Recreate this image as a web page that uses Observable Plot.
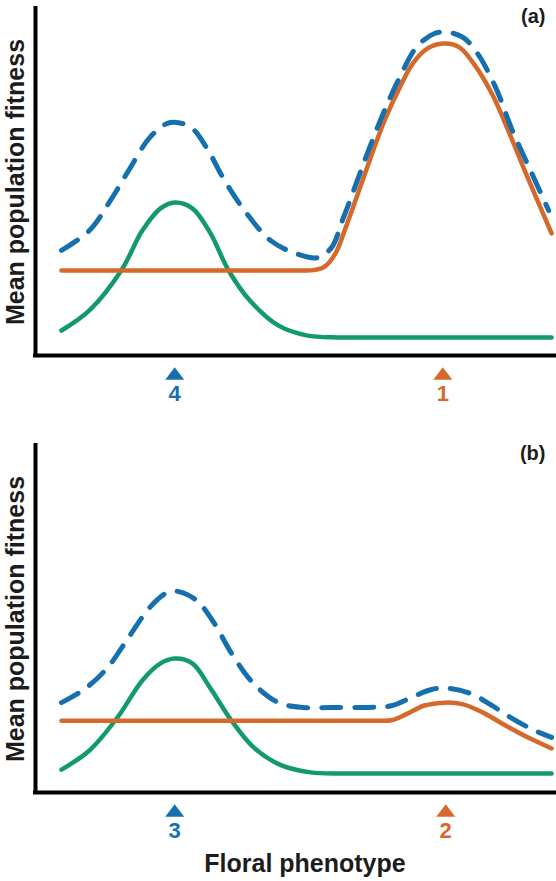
<!DOCTYPE html>
<html>
<head>
<meta charset="utf-8">
<script src="https://cdn.jsdelivr.net/npm/d3@7"></script>
<script src="https://cdn.jsdelivr.net/npm/@observablehq/plot@0.6"></script>
<style>
  body { margin: 0; background: #fff; font-family: "Liberation Sans", Arial, sans-serif; }
  #chart svg { display: block; }
</style>
</head>
<body>
<div id="chart"></div>
<script>
// Fitness landscapes: [phenotype, mean fitness] pairs for each component.
// Panel (a)
const aPollA = [[0,7.2],[5.7,13.0],[12.2,24.5],[16.5,36.0],[20.2,42.4],[23.1,44.1],[26.7,42.4],[30.4,35.2],[34.1,24.5],[38.4,15.9],[44.3,8.6],[50.0,5.8],[56.5,5.2],[63,5.2],[70,5.2],[85,5.2],[100,5.2]];
const aPollB = [[0,24.5],[15,24.5],[30,24.5],[40,24.5],[45,24.5],[48.5,24.5],[51.4,24.6],[53.7,25.6],[55.9,29.4],[58.0,36.9],[60.2,45.5],[63.1,57.1],[65.9,67.7],[69.0,77.2],[71.8,84.4],[74.7,88.5],[78.2,89.9],[81.2,88.8],[84.1,84.1],[87.8,75.5],[91.4,64.0],[95.1,51.3],[100,35.2]];
const aTotal = [[0,30.3],[5.7,36.0],[10.0,44.7],[13.7,53.3],[18.0,62.8],[21.6,66.9],[23.9,67.1],[26.7,65.4],[29.6,59.9],[33.3,50.4],[37.8,40.9],[42.7,33.1],[47.8,29.4],[52.2,28.2],[55.1,31.1],[57.3,38.9],[59.4,46.7],[62.4,58.2],[65.9,70.6],[69.0,80.1],[72.4,88.8],[76.1,92.8],[79.0,93.1],[82.0,91.6],[84.9,87.0],[88.6,77.2],[92.0,64.8],[95.7,53.3],[99.4,41.8]];
const aPeaks = [{x: 23.1, label: "4", series: "total"}, {x: 77.8, label: "1", series: "pollB"}];

// Panel (b)
const bPollA = [[0,6.6],[5.7,12.1],[11.4,21.6],[16.5,32.3],[20.2,37.2],[23.1,38.6],[26.7,37.2],[30.4,30.0],[34.7,20.7],[39.2,13.0],[44.9,7.8],[50.8,5.8],[57.3,5.5],[63,5.5],[70,5.5],[85,5.5],[100,5.5]];
const bPollB = [[0,20.7],[15,20.7],[30,20.7],[45,20.7],[55,20.7],[61,20.7],[64.5,20.7],[67.3,20.8],[70.4,22.6],[73.9,25.0],[78.4,25.9],[82.0,25.4],[86.3,22.8],[90.6,19.3],[95.1,15.9],[100,12.7]];
const bTotal = [[0,25.9],[4.9,30.0],[9.4,36.0],[13.7,44.7],[18.0,53.3],[21.6,57.6],[23.9,57.9],[27.6,55.3],[31.2,48.7],[34.7,40.1],[39.2,31.4],[44.3,25.9],[49.2,24.5],[55,24.5],[60.2,24.5],[64,24.6],[67.3,25.0],[71.0,27.1],[75.5,29.7],[79.0,30.0],[83.5,28.5],[87.8,25.1],[92.0,21.3],[96.5,17.9],[100,15.9]];
const bPeaks = [{x: 23.1, label: "3", series: "total"}, {x: 78.4, label: "2", series: "pollB"}];

const panelLabels = ["(a)", "(b)"];
const yTitle = "Mean population fitness";
const xTitle = "Floral phenotype";

const seriesNames = ["pollA", "pollB", "total"];
const seriesColors = ["#12996c", "#d5682a", "#1670ae"];

const ink = "#1c1c1c";
const font = "'Liberation Sans', Arial, sans-serif";

// Upward-pointing triangle used to flag fitness peaks under the axis
const upTriangle = {
  draw(ctx, size) {
    const r = Math.sqrt(size / Math.PI);
    const h = r * 1.3;
    ctx.moveTo(0, -h / 2);
    ctx.lineTo(r, h / 2);
    ctx.lineTo(-r, h / 2);
    ctx.closePath();
  }
};

const toRows = (pts, series) => pts.map(([x, y]) => ({x, y, series}));

function panel({pollA, pollB, total, peaks, tag, height, withXTitle}) {
  const solid = [...toRows(pollA, "pollA"), ...toRows(pollB, "pollB")];
  const dashed = toRows(total, "total");
  const marks = [
    Plot.line(solid, {x: "x", y: "y", z: "series", stroke: "series", strokeWidth: 4.5, curve: "catmull-rom"}),
    Plot.line(dashed, {x: "x", y: "y", stroke: "series", strokeWidth: 5, strokeDasharray: "19,14", curve: "catmull-rom"}),
    Plot.ruleX([-5.3], {stroke: "#000", strokeWidth: 4, strokeLinecap: "square"}),
    Plot.ruleY([0], {stroke: "#000", strokeWidth: 4, strokeLinecap: "square"}),
    Plot.dot(peaks, {x: "x", frameAnchor: "bottom", dy: 18, r: 9.5, symbol: upTriangle, fill: "series", stroke: null}),
    Plot.text(peaks, {x: "x", text: "label", frameAnchor: "bottom", dy: 38, fill: "series", fontSize: 22, fontWeight: "bold", lineAnchor: "middle", textAnchor: "middle"}),
    Plot.text([yTitle], {frameAnchor: "left", rotate: -90, dx: -20, fontSize: 25, fontWeight: "bold", fill: ink, textAnchor: "middle", lineAnchor: "middle"}),
    Plot.text([tag], {frameAnchor: "top-right", dx: -11, dy: 0, fontSize: 20, fontWeight: "bold", fill: ink})
  ];
  if (withXTitle) {
    marks.push(Plot.text([xTitle], {frameAnchor: "bottom", dx: 9, dy: 71, fontSize: 25, fontWeight: "bold", fill: ink, lineAnchor: "middle", textAnchor: "middle"}));
  }
  return Plot.plot({
    width: 556,
    height,
    marginLeft: 35,
    marginRight: 0,
    marginTop: 8,
    marginBottom: height - 355,
    style: {fontFamily: font, background: "#fff", overflow: "visible"},
    x: {domain: [-5.3, 101], axis: null},
    y: {domain: [0, 100], axis: null},
    color: {domain: seriesNames, range: seriesColors},
    marks
  });
}

const chart = document.getElementById("chart");
chart.append(panel({pollA: aPollA, pollB: aPollB, total: aTotal, peaks: aPeaks, tag: panelLabels[0], height: 437, withXTitle: false}));
chart.append(panel({pollA: bPollA, pollB: bPollB, total: bTotal, peaks: bPeaks, tag: panelLabels[1], height: 444, withXTitle: true}));
</script>
</body>
</html>
